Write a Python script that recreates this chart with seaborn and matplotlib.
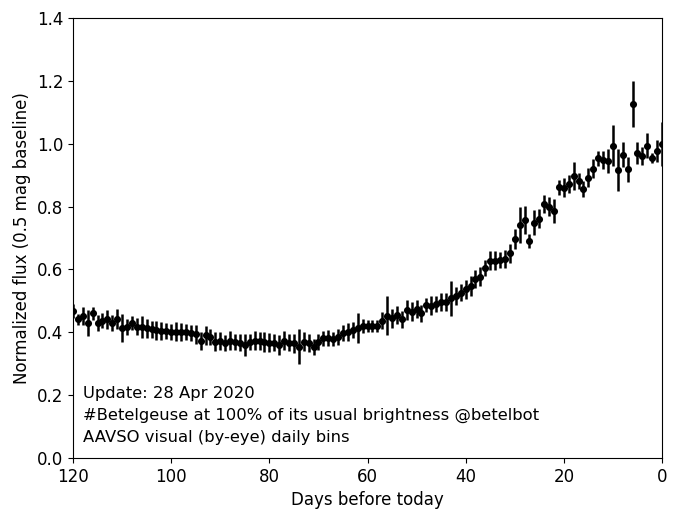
import numpy as np
import pandas as pd
import matplotlib
matplotlib.use('Agg')
import matplotlib.pyplot as plt
import seaborn as sns

# Daily bins, days before today (120 -> 0)
days = np.arange(120, -1, -1)

# Normalized flux per day
flux = [
    # 120 - 91
    0.469, 0.441, 0.452, 0.430, 0.460, 0.430, 0.437, 0.441, 0.430, 0.441,
    0.413, 0.416, 0.430, 0.418, 0.416, 0.413, 0.409, 0.407, 0.405, 0.404,
    0.402, 0.402, 0.400, 0.400, 0.397, 0.394, 0.373, 0.391, 0.384, 0.370,
    # 90 - 65
    0.373, 0.367, 0.373, 0.370, 0.367, 0.360, 0.370, 0.373, 0.373, 0.370,
    0.367, 0.367, 0.360, 0.373, 0.367, 0.365, 0.354, 0.370, 0.365, 0.354,
    0.370, 0.381, 0.381, 0.378, 0.386, 0.397,
    # 64 - 31
    0.400, 0.407, 0.413, 0.420, 0.420, 0.420, 0.420, 0.437, 0.453, 0.444,
    0.455, 0.441, 0.471, 0.466, 0.474, 0.460, 0.487, 0.484, 0.490, 0.497,
    0.497, 0.508, 0.515, 0.526, 0.537, 0.547, 0.569, 0.577, 0.604, 0.628,
    0.628, 0.630, 0.633, 0.651,
    # 30 - 0
    0.698, 0.741, 0.758, 0.690, 0.749, 0.762, 0.808, 0.800, 0.786, 0.862,
    0.860, 0.872, 0.897, 0.882, 0.856, 0.892, 0.920, 0.953, 0.948, 0.945,
    0.994, 0.916, 0.965, 0.919, 1.125, 0.969, 0.961, 0.993, 0.955, 0.978,
    0.999,
]

# 1-sigma error per bin
err = [
    0.022, 0.018, 0.028, 0.041, 0.020, 0.026, 0.024, 0.030, 0.026, 0.032,
    0.045, 0.025, 0.022, 0.028, 0.035, 0.030, 0.026, 0.030, 0.028, 0.026,
    0.025, 0.030, 0.028, 0.026, 0.025, 0.030, 0.028, 0.030, 0.026, 0.030,
    0.028, 0.025, 0.030, 0.026, 0.028, 0.034, 0.025, 0.030, 0.028, 0.032,
    0.030, 0.028, 0.032, 0.030, 0.028, 0.030, 0.056, 0.030, 0.028, 0.026,
    0.025, 0.024, 0.025, 0.022, 0.026, 0.025,
    0.028, 0.026, 0.048, 0.022, 0.020, 0.020, 0.020, 0.026, 0.061, 0.030,
    0.028, 0.028, 0.032, 0.030, 0.030, 0.028, 0.022, 0.030, 0.026, 0.028,
    0.028, 0.055, 0.028, 0.028, 0.030, 0.032, 0.028, 0.030, 0.025, 0.030,
    0.030, 0.025, 0.030, 0.030,
    0.032, 0.058, 0.045, 0.022, 0.040, 0.030, 0.028, 0.030, 0.037, 0.024,
    0.030, 0.028, 0.045, 0.025, 0.025, 0.030, 0.030, 0.025, 0.030, 0.038,
    0.065, 0.066, 0.040, 0.040, 0.073, 0.035, 0.030, 0.040, 0.015, 0.035,
    0.069,
]

df = pd.DataFrame({'days': days, 'flux': flux, 'err': err})

fig, ax = plt.subplots(figsize=(6.8, 5.21), dpi=100)
fig.subplots_adjust(left=0.1074, right=0.9735, bottom=0.1209, top=0.9655)

# error bars first, then the dots on top
ax.errorbar(df['days'], df['flux'], yerr=df['err'], fmt='none',
            ecolor='black', elinewidth=1.8, capsize=0, zorder=2)
sns.scatterplot(data=df, x='days', y='flux', ax=ax, color='black',
                s=26, edgecolor='black', linewidth=0, zorder=3, legend=False)

ax.set_xlim(120, 0)
ax.set_ylim(0, 1.4)
ax.set_xlabel('Days before today', fontsize=12)
ax.set_ylabel('Normalized flux (0.5 mag baseline)', fontsize=12)
ax.tick_params(labelsize=12)

ax.text(0.017, 0.03,
        'Update: 28 Apr 2020\n'
        '#Betelgeuse at 100% of its usual brightness @betelbot\n'
        'AAVSO visual (by-eye) daily bins',
        transform=ax.transAxes, fontsize=11.8, linespacing=1.55,
        ha='left', va='bottom')

plt.savefig('out.png', dpi=100)
plt.close()
